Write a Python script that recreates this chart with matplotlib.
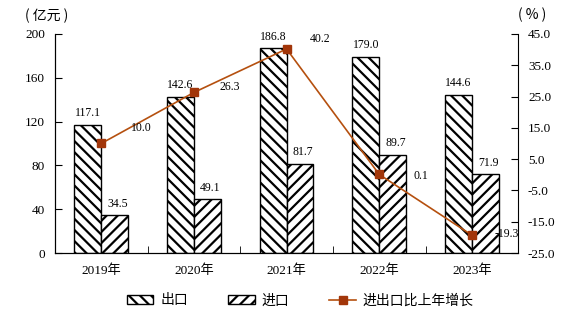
import matplotlib.pyplot as plt
import numpy as np
from matplotlib.patches import Patch
from matplotlib.lines import Line2D

plt.rcParams['font.family'] = ['Liberation Serif', 'Noto Sans CJK SC']
plt.rcParams['hatch.linewidth'] = 1.6
plt.rcParams['axes.unicode_minus'] = False

years = ['2019年', '2020年', '2021年', '2022年', '2023年']
exports = [117.1, 142.6, 186.8, 179.0, 144.6]
imports = [34.5, 49.1, 81.7, 89.7, 71.9]
growth = [10.0, 26.3, 40.2, 0.1, -19.3]

# label offsets for the growth values, in points
growth_offsets = [(29, 11), (26, 4), (24, 7), (30, -1), (25, 1)]

line_color = '#B5500F'
marker_color = '#A2360A'

fig = plt.figure(figsize=(5.72, 3.36), dpi=100)
ax = fig.add_axes([0.096, 0.247, 0.81, 0.652])
x = np.arange(len(years))
w = 0.29

ax.bar(x - w / 2, exports, w, facecolor='white', edgecolor='black', hatch='\\\\\\', linewidth=1.0, zorder=2)
ax.bar(x + w / 2, imports, w, facecolor='white', edgecolor='black', hatch='///', linewidth=1.0, zorder=2)

for i in range(len(years)):
    ax.annotate(f'{exports[i]:.1f}', (x[i] - w / 2, exports[i]), xytext=(0, 4), textcoords='offset points',
                ha='center', va='bottom', fontsize=8.5)
    ax.annotate(f'{imports[i]:.1f}', (x[i] + w / 2, imports[i]), xytext=(2, 4), textcoords='offset points',
                ha='center', va='bottom', fontsize=8.5)

ax.set_xlim(-0.5, len(years) - 0.5)
ax.set_ylim(0, 200)
ax.set_yticks([0, 40, 80, 120, 160, 200])
ax.set_xticks(x)
ax.set_xticklabels(years, fontsize=9.5)
ax.set_xticks(np.arange(len(years) + 1) - 0.5, minor=True)
ax.tick_params(axis='x', which='major', length=0, pad=8)
ax.tick_params(axis='x', which='minor', direction='in', length=5)
ax.tick_params(axis='y', direction='in', length=5, labelsize=9.5, pad=7)
ax.spines['top'].set_visible(False)
ax.spines['right'].set_visible(False)

ax2 = ax.twinx()
ax2.plot(x, growth, color=line_color, linewidth=1.2, marker='s', markersize=6,
         markerfacecolor=marker_color, markeredgecolor=marker_color, zorder=3)
for i in range(len(years)):
    ax2.annotate(f'{growth[i]:.1f}', (x[i], growth[i]), xytext=growth_offsets[i], textcoords='offset points',
                 ha='center', va='center', fontsize=8.5)
ax2.set_ylim(-25, 45)
ax2.set_yticks(np.arange(-25, 46, 10))
ax2.set_yticklabels([f'{v:.1f}' for v in np.arange(-25, 46, 10)])
ax2.tick_params(axis='y', direction='in', length=5, labelsize=9.5, pad=7)
ax2.spines['top'].set_visible(False)

fig.text(0.082, 0.952, '( 亿元 )', fontsize=10, ha='center', va='center', family='Noto Sans CJK SC')
fig.text(0.930, 0.955, '( % )', fontsize=10, ha='center', va='center', family='Noto Sans CJK SC')

handles = [
    Patch(facecolor='white', edgecolor='black', hatch='\\\\\\'),
    Patch(facecolor='white', edgecolor='black', hatch='///'),
    Line2D([0], [0], color=line_color, linewidth=1.2, marker='s', markersize=6,
           markerfacecolor=marker_color, markeredgecolor=marker_color),
]
fig.legend(handles, ['出口', '进口', '进出口比上年增长'], loc='center', bbox_to_anchor=(0.525, 0.105),
           ncol=3, frameon=False, fontsize=10, handlelength=1.9, handleheight=0.7, columnspacing=2.9,
           handletextpad=0.5)

plt.savefig('out.png', dpi=100)
plt.close()
